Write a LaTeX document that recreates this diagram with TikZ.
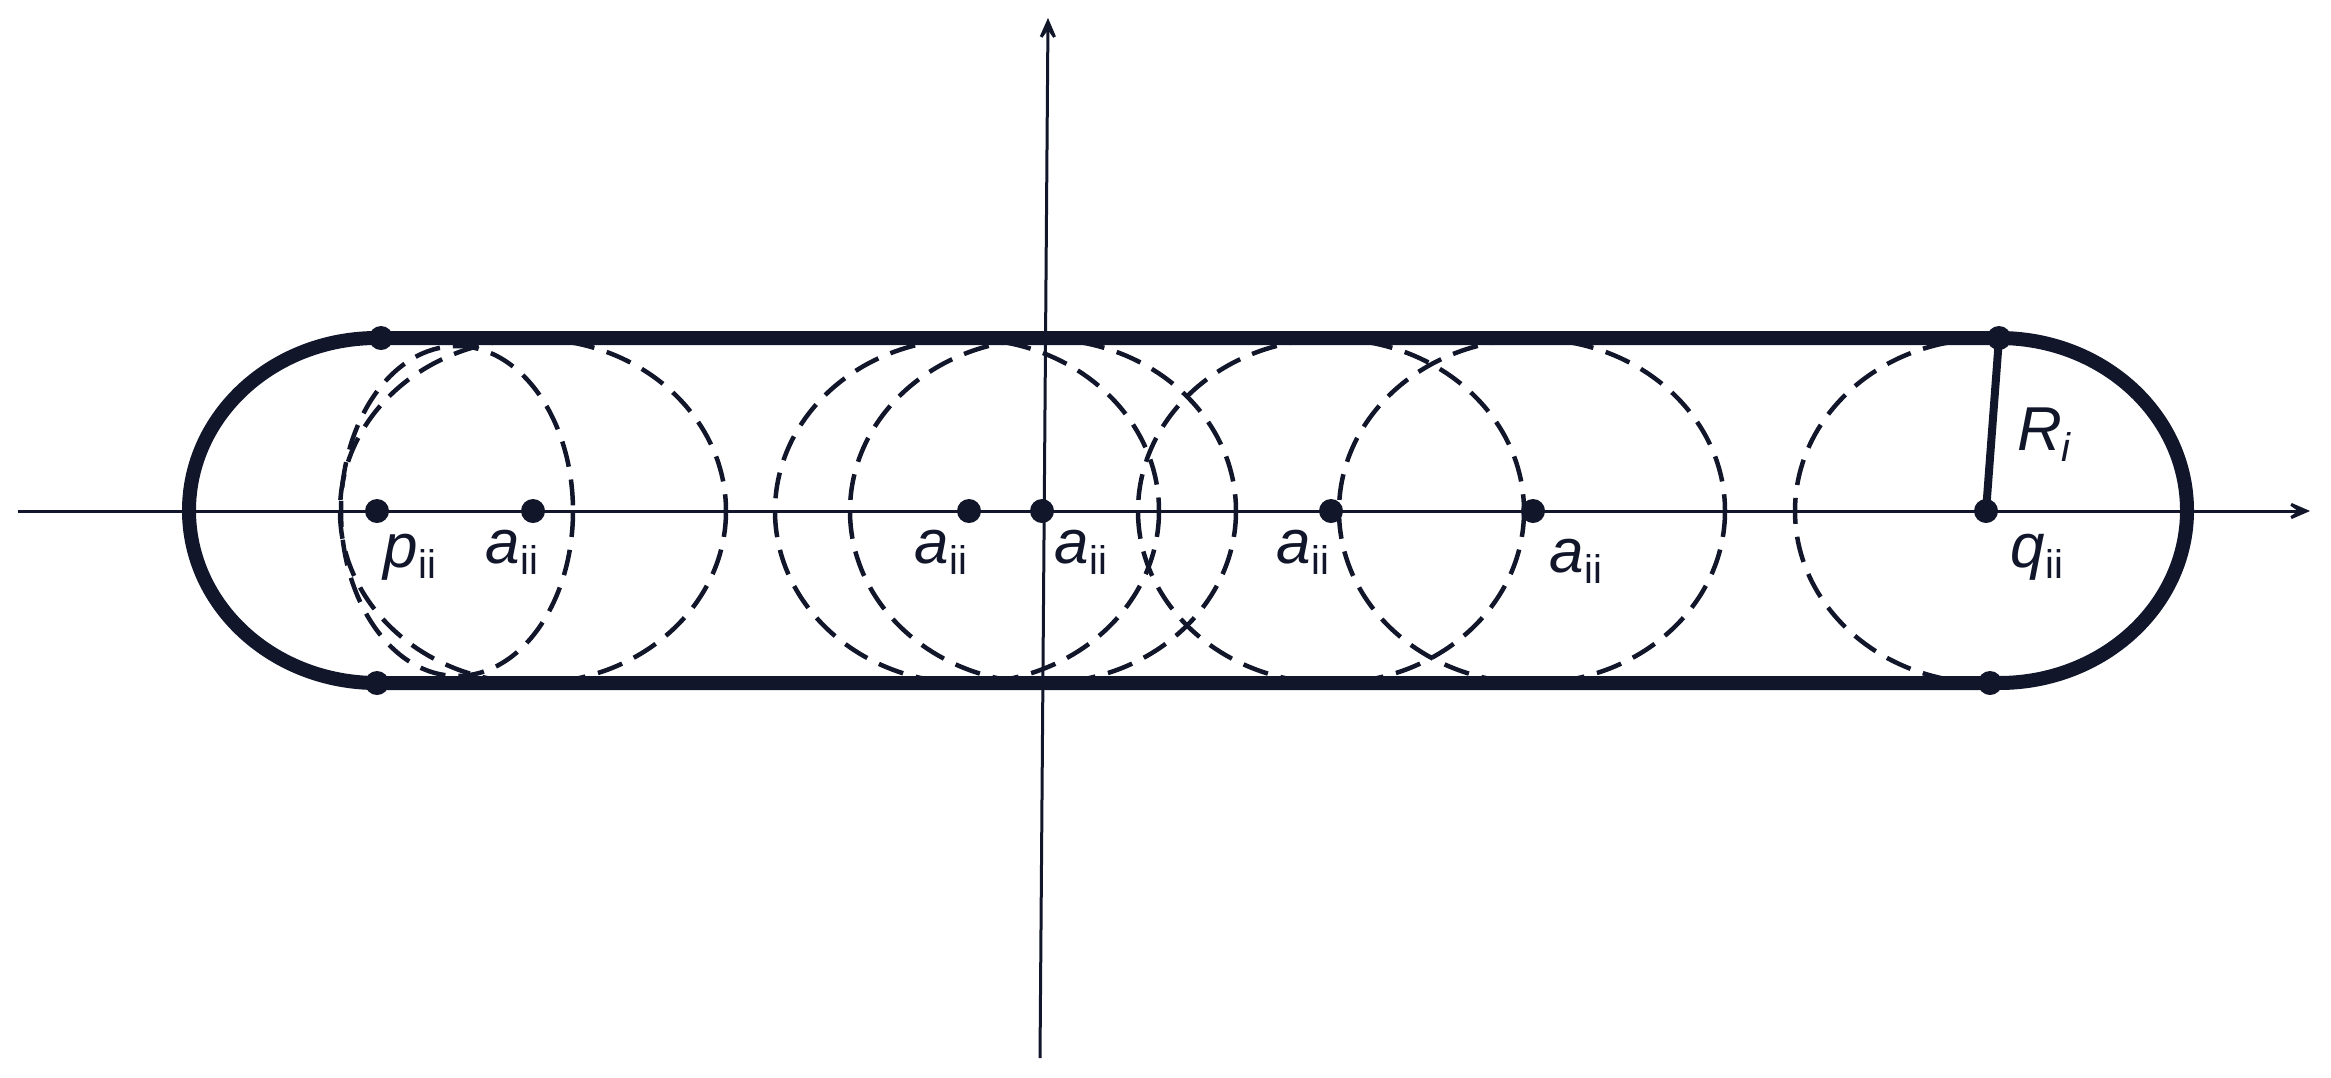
\documentclass[tikz,border=0pt]{standalone}
\usepackage{fontspec}
\setmainfont{Liberation Sans}
\usetikzlibrary{arrows.meta}
\definecolor{ink}{HTML}{11162A}
\begin{document}
\begin{tikzpicture}[x=1pt,y=-1pt,
  axis/.style={draw=ink,line width=3pt,-{Stealth[length=32pt,width=28pt,inset=20pt]}},
  dashcirc/.style={draw=ink,line width=4.5pt,dash pattern=on 26pt off 13pt},
  outline/.style={draw=ink,line width=14pt},
  dot/.style={circle,fill=ink,inner sep=0pt,minimum size=24pt},
  lab/.style={font=\fontsize{62}{66}\selectfont\itshape,text=ink,inner sep=0pt},
  sub/.style={}]
\useasboundingbox (0,0) rectangle (2331,1077);
% axes
\coordinate (xl) at (18,511); \coordinate (xr) at (2310,511);
\coordinate (yb) at (1040,1058); \coordinate (yt) at (1048,18);
\draw[axis] (xl) -- (xr);
\draw[axis] (yb) -- (yt);
% dashed circles
\draw[dashcirc] (457,511) ellipse [x radius=116, y radius=165];
\draw[dashcirc] (533,511) ellipse [x radius=193, y radius=172];
\draw[dashcirc] (967,511) ellipse [x radius=192, y radius=172];
\draw[dashcirc] (1043,511) ellipse [x radius=193, y radius=172];
\draw[dashcirc] (1331,511) ellipse [x radius=193, y radius=172];
\draw[dashcirc] (1532,511) ellipse [x radius=193, y radius=172];
\draw[dashcirc] (1987,339) arc[start angle=-90,end angle=-270,x radius=192,y radius=172];
% outline
\coordinate (tl) at (381,338); \coordinate (bl) at (377,683);
\coordinate (tr) at (1999,338); \coordinate (br) at (1990,683);
\draw[outline] (tl) -- (tr) arc[start angle=-90,end angle=90,x radius=188,y radius=172.5] -- (bl)
  arc[start angle=90,end angle=270,x radius=188,y radius=172.5] -- cycle;
% dots
\node[dot] (dtl) at (tl) {}; \node[dot] (dbl) at (bl) {};
\node[dot] (dtr) at (tr) {}; \node[dot] (dbr) at (br) {};
\node[dot] (p) at (377,511) {};
\node[dot] (a1) at (533,511) {};
\node[dot] (a2) at (969,511) {};
\node[dot] (a3) at (1042,511) {};
\node[dot] (a4) at (1331,511) {};
\node[dot] (a5) at (1533,511) {};
\node[dot] (q) at (1986,511) {};
\draw[ink,line width=8pt] (q.center) -- (dtr.center);
% labels
\newcommand{\ii}{\textup{\fontsize{40}{42}\selectfont\raisebox{-11pt}{ii}}}
\node[lab] at (410,557) {p\ii};
\node[lab] at (512,552) {a\ii};
\node[lab] at (941,552) {a\ii};
\node[lab] at (1081,552) {a\ii};
\node[lab] at (1303,552) {a\ii};
\node[lab] at (1576,561) {a\ii};
\node[lab] at (2037,557) {q\ii};
\node[lab] at (2044,435) {R\raisebox{-11pt}{\fontsize{40}{42}\selectfont i}};
\end{tikzpicture}
\end{document}
